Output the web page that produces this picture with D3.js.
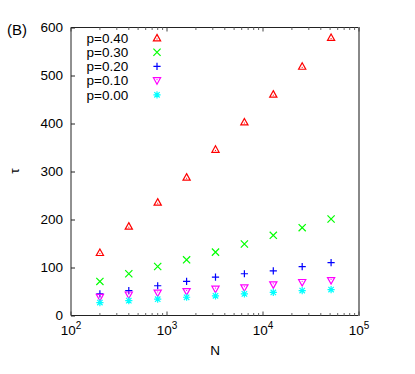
<!DOCTYPE html>
<html><head><meta charset="utf-8">
<script src="https://cdn.jsdelivr.net/npm/d3@7"></script>
<style>body{margin:0;background:#fff}svg{display:block}text{font-family:"Liberation Sans",Arial,sans-serif;fill:#000}</style>
</head><body>
<svg id="c" width="415" height="374"></svg>
<script>
const Ns = [200, 400, 800, 1600, 3200, 6400, 12800, 25600, 51200];
const p040 = [131, 186, 236, 288, 346, 403, 461, 519, 579];
const p030 = [71, 87, 102, 116, 132, 149, 167, 183, 201];
const p020 = [45, 52, 62, 71, 80, 87, 93, 102, 110];
const p010 = [38, 43, 47, 50, 55, 58, 64, 69, 73];
const p000 = [27, 31, 34, 38, 41, 45, 48, 52, 54];
const seriesNames = ["p=0.40", "p=0.30", "p=0.20", "p=0.10", "p=0.00"];
const seriesColors = ["#ff0000", "#00ff00", "#0000ff", "#ff00ff", "#00ffff"];
const seriesShapes = ["tri", "x", "plus", "tridown", "star"];
const yTicks = [0, 100, 200, 300, 400, 500, 600];
const xTicks = [100, 1000, 10000, 100000];
const series = [p040, p030, p020, p010, p000];

const svg = d3.select("#c");
const L = 71, R = 359, T = 27.5, B = 315.5;
const FS = 13.5;
const x = d3.scaleLog().domain([100, 100000]).range([L, R]);
const y = d3.scaleLinear().domain([0, 600]).range([B, T]);

function marker(g, shape, cx, cy, color) {
  const s = 3.6;
  if (shape === "tri") {
    g.append("path").attr("d", `M${cx},${cy - s}L${cx + s},${cy + s * 0.8}L${cx - s},${cy + s * 0.8}Z`)
      .attr("fill", "none").attr("stroke", color).attr("stroke-width", 1.2);
    g.append("rect").attr("x", cx - 0.5).attr("y", cy + 0.5).attr("width", 1).attr("height", 1).attr("fill", color);
  } else if (shape === "tridown") {
    g.append("path").attr("d", `M${cx},${cy + s}L${cx + s},${cy - s * 0.8}L${cx - s},${cy - s * 0.8}Z`)
      .attr("fill", "none").attr("stroke", color).attr("stroke-width", 1.2);
    g.append("rect").attr("x", cx - 0.5).attr("y", cy - 1.5).attr("width", 1).attr("height", 1).attr("fill", color);
  } else if (shape === "x") {
    g.append("path").attr("d", `M${cx - s},${cy - s}L${cx + s},${cy + s}M${cx - s},${cy + s}L${cx + s},${cy - s}`)
      .attr("stroke", color).attr("stroke-width", 1.2);
  } else if (shape === "plus") {
    g.append("path").attr("d", `M${cx - s},${cy}L${cx + s},${cy}M${cx},${cy - s}L${cx},${cy + s}`)
      .attr("stroke", color).attr("stroke-width", 1.2);
  } else if (shape === "star") {
    g.append("path").attr("d", `M${cx - s},${cy}L${cx + s},${cy}M${cx},${cy - s}L${cx},${cy + s}M${cx - s * 0.75},${cy - s * 0.75}L${cx + s * 0.75},${cy + s * 0.75}M${cx - s * 0.75},${cy + s * 0.75}L${cx + s * 0.75},${cy - s * 0.75}`)
      .attr("stroke", color).attr("stroke-width", 1.2);
  }
}

// frame
svg.append("line").attr("x1", L).attr("x2", R).attr("y1", T).attr("y2", T).attr("stroke", "#222").attr("stroke-width", 1);
svg.append("line").attr("x1", L).attr("x2", L).attr("y1", T).attr("y2", B).attr("stroke", "#222").attr("stroke-width", 1);
svg.append("line").attr("x1", L).attr("x2", R).attr("y1", B).attr("y2", B).attr("stroke", "#222").attr("stroke-width", 1);
svg.append("line").attr("x1", R).attr("x2", R).attr("y1", T - 0.5).attr("y2", B + 0.5).attr("stroke", "#888").attr("stroke-width", 2);

// y axis ticks (inward) and labels
const yAxis = d3.axisLeft(y).tickValues(yTicks).tickSizeInner(-4).tickSizeOuter(0).tickPadding(8);
const gy = svg.append("g").attr("transform", `translate(${L},0)`).call(yAxis);
gy.select(".domain").remove();
gy.selectAll("line").attr("stroke", "#222");
gy.selectAll("text").attr("font-size", FS).attr("font-family", "Liberation Sans, Arial, sans-serif").attr("fill", "#000");

// x minor ticks (bottom and top, inward)
const minors = [];
for (let e = 2; e < 5; e++) for (let m = 2; m <= 9; m++) minors.push(m * Math.pow(10, e));
minors.forEach(v => {
  svg.append("line").attr("x1", x(v)).attr("x2", x(v)).attr("y1", B).attr("y2", B - 2.5).attr("stroke", "#666");
  svg.append("line").attr("x1", x(v)).attr("x2", x(v)).attr("y1", T).attr("y2", T + 2.5).attr("stroke", "#666");
});
xTicks.forEach(v => {
  svg.append("line").attr("x1", x(v)).attr("x2", x(v)).attr("y1", B).attr("y2", B - 4).attr("stroke", "#444");
  svg.append("line").attr("x1", x(v)).attr("x2", x(v)).attr("y1", T).attr("y2", T + 4).attr("stroke", "#444");
  const t = svg.append("text").attr("x", x(v)).attr("y", 335).attr("text-anchor", "middle").attr("font-size", FS);
  t.append("tspan").text("10");
  t.append("tspan").attr("dy", -6).attr("font-size", 10).text(String(Math.round(Math.log10(v))));
});

// axis titles
svg.append("text").attr("x", 215).attr("y", 355).attr("text-anchor", "middle").attr("font-size", FS).text("N");
svg.append("text").attr("transform", "translate(19,171) rotate(-90)").attr("text-anchor", "middle").attr("font-size", FS).text("τ");
svg.append("text").attr("x", 7).attr("y", 35).attr("font-size", 15).text("(B)");

// data
const gd = svg.append("g");
series.forEach((vals, i) => {
  vals.forEach((v, j) => marker(gd, seriesShapes[i], x(Ns[j]), y(v), seriesColors[i]));
});

// legend
seriesNames.forEach((name, i) => {
  const cy = 38 + i * 14.2;
  svg.append("text").attr("x", 86.5).attr("y", cy + 4.8).attr("font-size", FS).text(name);
  marker(svg, seriesShapes[i], 157, cy, seriesColors[i]);
});
</script>
</body></html>
